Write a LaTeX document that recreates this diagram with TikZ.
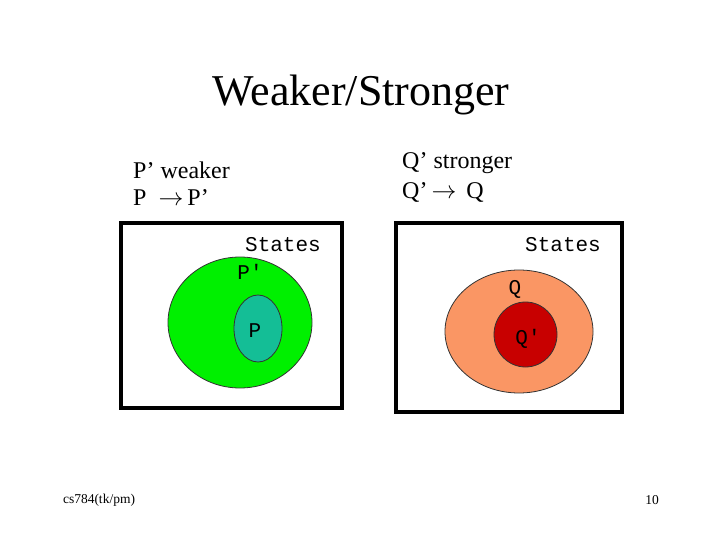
\documentclass[tikz,border=0pt]{standalone}
\usepackage{fontspec}
\setmainfont{Liberation Serif}
\setmonofont{Liberation Mono}
\usetikzlibrary{positioning}

\definecolor{weakgreen}{RGB}{0,240,0}
\definecolor{innerteal}{RGB}{20,190,150}
\definecolor{strongpeach}{RGB}{250,150,100}
\definecolor{innerred}{RGB}{200,0,0}

\begin{document}
\begin{tikzpicture}[
      x=1pt,y=-1pt,
      box/.style={draw,line width=4pt},
      region/.style={draw=black!80,line width=0.8pt},
      head/.style={font=\fontsize{24}{28}\selectfont,anchor=west,inner sep=0pt},
      set name/.style={font=\ttfamily\fontsize{21}{24}\selectfont,inner sep=0pt},
      foot/.style={font=\fontsize{13.5}{15}\selectfont,inner sep=0pt}
    ]
    \useasboundingbox (0,0) rectangle (720,540);

    \node[font=\fontsize{44}{50}\selectfont] (title) at (361,95) {Weaker/Stronger};

    \node[head] (weaker) at (133,170) {P’ weaker};
    \node[head] (pimpl) at (133,198) {P \ $\rightarrow$\,P’};
    \node[head] (stronger) at (402,163) {Q’ stronger};
    \node[head] (qimpl) at (402,192) {Q’\,$\rightarrow$\, Q};

    % left box: P' weaker
    \draw[box] (121,223) rectangle (342,408);
    \filldraw[region,fill=weakgreen] (240,322.5) ellipse (72 and 65.5);
    \filldraw[region,fill=innerteal] (258,328.5) ellipse (24 and 33.5);
    \node[set name] (statesL) at (283,245) {States};
    \node[set name] (pprime) at (250,272) {P'};
    \node[set name] (p) at (255,331) {P};

    % right box: Q' stronger
    \draw[box] (396,223) rectangle (622,412);
    \filldraw[region,fill=strongpeach] (519,331.5) ellipse (74 and 61.5);
    \filldraw[region,fill=innerred] (525.5,334.5) ellipse (31.5 and 32.5);
    \node[set name] (statesR) at (563,245) {States};
    \node[set name] (q) at (515,289) {Q};
    \node[set name] (qprime) at (528,339) {Q'};

    \node[foot] (course) at (99,500) {cs784(tk/pm)};
    \node[foot] (page) at (652,500) {10};
  \end{tikzpicture}
\end{document}
